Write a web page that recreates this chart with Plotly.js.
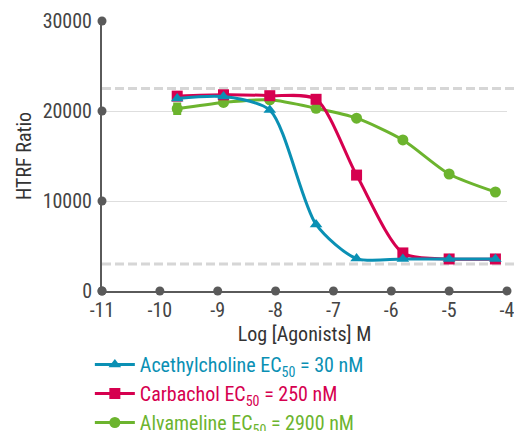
<!DOCTYPE html>
<html>
<head>
<meta charset="utf-8">
<script src="https://cdn.plot.ly/plotly-3.0.1.min.js"></script>
<style>
  html, body { margin: 0; padding: 0; background: #fff; }
  #chart { width: 514px; height: 431px; }
</style>
</head>
<body>
<div id="chart"></div>
<script>
// Log molar agonist concentration for each dilution step
const logConc = [-9.7, -8.9, -8.1, -7.3, -6.6, -5.8, -5.0, -4.2];

// HTRF ratio per agonist
const acetylcholine = [21400, 21600, 20100, 7400, 3600, 3560, 3550, 3550];
const carbachol     = [21650, 21800, 21700, 21300, 12880, 4230, 3560, 3560];
const alvameline    = [20250, 20950, 21250, 20300, 19200, 16780, 13000, 11000];
const alvamelineErr = [550, 0, 0, 0, 0, 0, 0, 0];

// Assay window (top / bottom reference levels)
const windowLevels = [22500, 3000];

// Axis ticks
const xTicks = [-11, -10, -9, -8, -7, -6, -5, -4];
const yTicks = [0, 10000, 20000, 30000];

const seriesNames = [
  'Acethylcholine EC<sub>50</sub> = 30 nM',
  'Carbachol EC<sub>50</sub> = 250 nM',
  'Alvameline EC<sub>50</sub> = 2900 nM'
];
const colors = ['#0a90b4', '#d6004f', '#6cb42e'];

const FONT = '"Roboto Condensed", "Liberation Sans Narrow", Roboto, sans-serif';
const AXIS = '#5a5a5a';

// Round knobs on the axis lines at every tick
const axisDots = {
  x: xTicks.concat(yTicks.map(() => xTicks[0])),
  y: xTicks.map(() => 0).concat(yTicks),
  mode: 'markers',
  marker: { size: 9, color: AXIS },
  cliponaxis: false,
  showlegend: false,
  hoverinfo: 'skip'
};

function series(name, y, color, symbol, size, extra) {
  return Object.assign({
    x: logConc,
    y: y,
    name: '<span style="color:' + color + '">' + name + '</span>',
    mode: 'lines+markers',
    line: { color: color, width: 3, shape: 'spline', smoothing: 0.75 },
    marker: { color: color, symbol: symbol, size: size },
    cliponaxis: false
  }, extra || {});
}

const traces = [
  axisDots,
  series(seriesNames[2], alvameline, colors[2], 'circle', 11, {
    error_y: { type: 'data', array: alvamelineErr, visible: true, color: colors[2], thickness: 2.5, width: 4 }
  }),
  series(seriesNames[1], carbachol, colors[1], 'square', 11),
  series(seriesNames[0], acetylcholine, colors[0], 'triangle-up', 11)
];

const shapes = windowLevels.map(v => ({
  type: 'line', xref: 'paper', yref: 'y',
  x0: 0, x1: 1.02, y0: v, y1: v,
  line: { color: '#d6d6d6', width: 3, dash: '9px,4px' },
  layer: 'below'
}));

const layout = {
  width: 514,
  height: 431,
  margin: { l: 102, r: 7, t: 21, b: 140, autoexpand: false },
  paper_bgcolor: '#ffffff',
  plot_bgcolor: '#ffffff',
  font: { family: FONT, size: 20, color: '#444444' },
  showlegend: true,
  legend: {
    x: -0.03, y: -0.2, xanchor: 'left', yanchor: 'top',
    traceorder: 'reversed',
    font: { family: FONT, size: 20 },
    bgcolor: 'rgba(0,0,0,0)',
    itemwidth: 40
  },
  xaxis: {
    range: [-11, -4],
    tickvals: xTicks,
    ticktext: xTicks.map(String),
    showgrid: false,
    zeroline: false,
    showline: true,
    linecolor: AXIS,
    linewidth: 2,
    ticks: '',
    ticklabelstandoff: 0,
    ticklabeloverflow: 'allow',
    tickfont: { family: FONT, size: 20, color: '#444444' },
    title: { text: 'Log [Agonists] M', font: { family: FONT, size: 20, color: '#333333' }, standoff: 1 }
  },
  yaxis: {
    range: [0, 30000],
    tickvals: yTicks,
    ticktext: yTicks.map(String),
    showgrid: true,
    gridcolor: '#dedede',
    gridwidth: 1,
    zeroline: false,
    showline: true,
    linecolor: AXIS,
    linewidth: 2,
    ticks: '',
    ticklabelstandoff: 4,
    tickfont: { family: FONT, size: 20, color: '#444444' },
    title: { text: 'HTRF Ratio', font: { family: FONT, size: 20, color: '#333333' }, standoff: 6 }
  },
  shapes: shapes
};

Plotly.newPlot('chart', traces, layout, { displayModeBar: false, staticPlot: true });
</script>
</body>
</html>
